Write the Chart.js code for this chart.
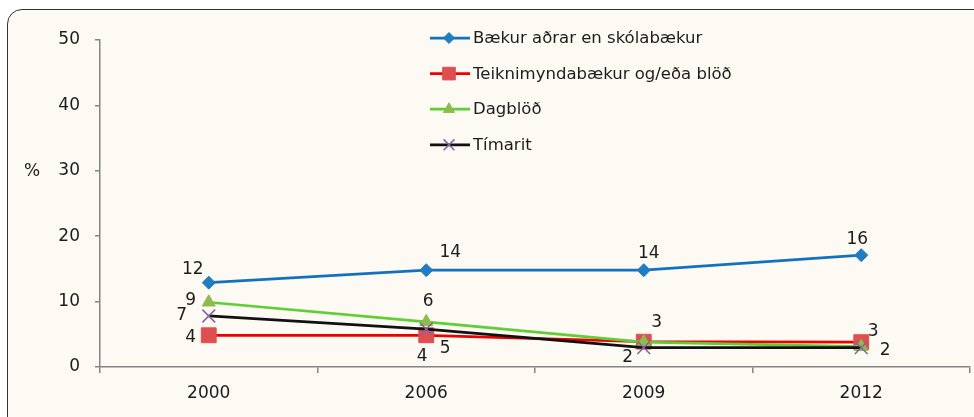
<!DOCTYPE html>
<html>
<head>
<meta charset="utf-8">
<script src="https://cdn.jsdelivr.net/npm/chart.js@4"></script>
<style>
  html, body { margin: 0; padding: 0; background: #fff; overflow: hidden; }
  #wrap { position: relative; width: 974px; height: 417px; }
  #box {
    position: absolute; left: 7px; top: 9px; width: 1000px; height: 460px;
    background: #fdf9f3; border: 1px solid #333; border-radius: 15px;
  }
  canvas { position: absolute; left: 0; top: 0; }
</style>
</head>
<body>
<div id="wrap">
  <div id="box"></div>
  <canvas id="chart" width="974" height="417"></canvas>
</div>
<script>
const years = ['2000', '2006', '2009', '2012'];
const seriesNames = ['Bækur aðrar en skólabækur', 'Teiknimyndabækur og/eða blöð', 'Dagblöð', 'Tímarit'];
const baekur = [12.9, 14.8, 14.8, 17.1];
const teikni = [4.85, 4.85, 3.87, 3.8];
const dagblod = [9.9, 6.9, 3.8, 3.1];
const timarit = [7.8, 5.8, 2.95, 2.95];
const baekurLabels = ['12', '14', '14', '16'];
const teikniLabels = ['4', '4', null, '3'];
const dagblodLabels = ['9', '6', '3', null];
const timaritLabels = ['7', '5', '2', '2'];
const yTicks = [0, 10, 20, 30, 40, 50];

const FONT = '"DejaVu Sans", sans-serif';
const TEXT = '#1c1c1c';

// where each value label sits relative to its point
const labelOffsets = [
  [[-16, -13], [24, -18], [5, -17], [-4, -16]],
  [[-18, 2], [-4, 21], [0, 0], [12, -11]],
  [[-18, -2], [2, -20], [13, -20], [0, 0]],
  [[-27, 0], [19, 20], [-16, 10], [24, 3]]
];
const allLabels = [baekurLabels, teikniLabels, dagblodLabels, timaritLabels];

const datasets = [
  { label: seriesNames[0], data: baekur, borderColor: '#1372c0', backgroundColor: '#1f7dc4',
    pointBackgroundColor: '#1f7dc4', pointBorderColor: '#1f7dc4', pointStyle: 'rectRot', pointRadius: 6.5, order: 3 },
  { label: seriesNames[1], data: teikni, borderColor: '#ee0000', backgroundColor: '#e04f4f',
    pointBackgroundColor: '#e04f4f', pointBorderColor: '#e04f4f', pointStyle: 'rect', pointRadius: 10.5, order: 2 },
  { label: seriesNames[2], data: dagblod, borderColor: '#5fcf35', backgroundColor: '#8cbb4f',
    pointBackgroundColor: '#8cbb4f', pointBorderColor: '#8cbb4f', pointStyle: 'triangle', pointRadius: 7.5, order: 1 },
  { label: seriesNames[3], data: timarit, borderColor: '#111111', backgroundColor: '#8064a2',
    pointBackgroundColor: '#8064a2', pointBorderColor: '#8064a2', pointStyle: 'crossRot', pointRadius: 9, order: 0 }
].map(d => Object.assign({ borderWidth: 2.75, pointBorderWidth: 1, pointHoverRadius: d.pointRadius, fill: false, tension: 0 }, d));
datasets[3].pointBorderWidth = 1.5;

const extras = {
  id: 'extras',
  afterDraw(chart) {
    const ctx = chart.ctx;
    ctx.save();
    ctx.font = '17px ' + FONT;
    ctx.fillStyle = TEXT;
    ctx.textAlign = 'center';
    ctx.textBaseline = 'middle';
    // value labels
    chart.data.datasets.forEach((ds, i) => {
      const meta = chart.getDatasetMeta(i);
      meta.data.forEach((pt, j) => {
        const txt = allLabels[i][j];
        if (!txt) return;
        const off = labelOffsets[i][j];
        ctx.fillText(txt, pt.x + off[0], pt.y + off[1]);
      });
    });
    // axis unit
    ctx.fillText('%', 32, 172);
    // legend
    ctx.font = '16.5px ' + FONT;
    const lx = 430, ly = 38, gap = 35.6;
    chart.data.datasets.forEach((ds, i) => {
      const y = ly + i * gap;
      ctx.strokeStyle = ds.borderColor;
      ctx.lineWidth = ds.borderWidth;
      ctx.beginPath();
      ctx.moveTo(lx, y);
      ctx.lineTo(lx + 40, y);
      ctx.stroke();
      ctx.fillStyle = ds.pointBackgroundColor;
      ctx.strokeStyle = ds.pointBorderColor;
      ctx.lineWidth = ds.pointBorderWidth;
      Chart.helpers.drawPoint(ctx, { pointStyle: ds.pointStyle, radius: ds.pointRadius * 0.85, rotation: 0, borderWidth: ds.pointBorderWidth }, lx + 19, y);
      ctx.fillStyle = TEXT;
      ctx.textAlign = 'left';
      ctx.fillText(ds.label, lx + 43, y + 1);
    });
    ctx.restore();
  }
};

new Chart(document.getElementById('chart'), {
  type: 'line',
  data: { labels: years, datasets: datasets },
  plugins: [extras],
  options: {
    responsive: false,
    animation: false,
    layout: { autoPadding: false, padding: { top: 40, right: 4, left: 0, bottom: 0 } },
    plugins: { legend: { display: false }, tooltip: { enabled: false } },
    scales: {
      x: {
        offset: true,
        grid: { offset: true, drawOnChartArea: false, tickLength: 6, color: '#858585', lineWidth: 1.5 },
        border: { color: '#858585', width: 1.5 },
        ticks: { font: { family: FONT, size: 17 }, color: TEXT, padding: 10 },
        afterFit(s) { s.height = 50; s.paddingLeft = 0; s.paddingRight = 0; }
      },
      y: {
        min: 0, max: 50,
        afterBuildTicks(s) { s.ticks = yTicks.map(v => ({ value: v })); },
        grid: { drawOnChartArea: false, tickLength: 5, color: '#858585', lineWidth: 1.5 },
        border: { color: '#858585', width: 1.5 },
        ticks: { font: { family: FONT, size: 17 }, color: TEXT, padding: 15 },
        afterFit(s) { s.width = 100; }
      }
    }
  }
});
</script>
</body>
</html>
